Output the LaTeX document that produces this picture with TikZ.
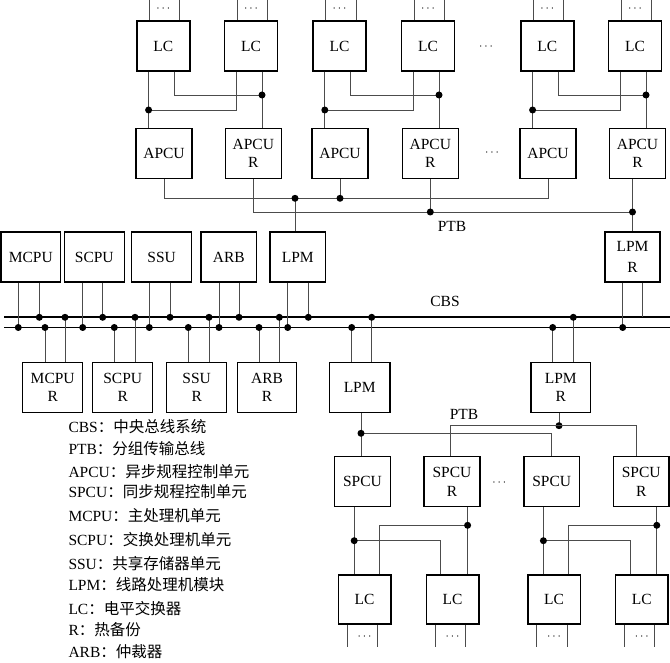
\documentclass[tikz,border=0pt]{standalone}
\usepackage{fontspec}
\setmainfont{Liberation Serif}
\newfontfamily\cjk{Noto Sans CJK SC}
\newcommand\bxfont{\fontsize{15.5}{18.6}\selectfont}
\newcommand\ddfont{\fontsize{13}{15}\selectfont}
\begin{document}
\begin{tikzpicture}[x=1pt,y=-1pt,
  box/.style={draw, line width=1.5pt, inner sep=0pt, align=center, font=\bxfont, minimum height=50pt},
  wire/.style={line width=0.8pt, draw=black!70},
  bus/.style={line width=1.6pt},
  jn/.style={circle, fill=black, inner sep=0pt, minimum size=7pt},
  lbl/.style={font=\bxfont, inner sep=0pt},
  dd/.style={font=\ddfont, inner sep=0pt}]
\useasboundingbox (0,0) rectangle (670,663);

% ---------- nodes ----------
\foreach \n/\x in {lc1/163.3,lc2/251,lc3/339.5,lc4/428,lc5/547.3,lc6/635}{
  \node[box, minimum width=53pt] (\n) at (\x,46) {LC};
  \draw[wire] ([xshift=-14pt]\n.north) -- ++(0,-22);
  \draw[wire] ([xshift=16.5pt]\n.north) -- ++(0,-22);
  \node[dd] (\n-d) at (\x,9) {$\cdots$};
}
\node[dd] (e1) at (486,47) {$\cdots$};
\node[box, minimum width=56pt] (ap1) at (164,153.3) {APCU};
\node[box, minimum width=56pt] (apr1) at (253.3,153.3) {APCU\\R};
\node[box, minimum width=56pt] (ap2) at (340,153.3) {APCU};
\node[box, minimum width=56pt] (apr2) at (430.3,153.3) {APCU\\R};
\node[box, minimum width=56pt] (ap3) at (548,153.3) {APCU};
\node[box, minimum width=56pt] (apr3) at (637.5,153.3) {APCU\\R};
\node[dd] (e2) at (492,153) {$\cdots$};

\node[box, minimum width=59.7pt] (mcpu) at (30.8,257) {MCPU};
\node[box, minimum width=60pt] (scpu) at (94.3,257) {SCPU};
\node[box, minimum width=60pt] (ssu) at (161.7,257) {SSU};
\node[box, minimum width=55.7pt] (arb) at (228.8,257) {ARB};
\node[box, minimum width=55.7pt] (lpm) at (297.8,257) {LPM};
\node[box, minimum width=55pt] (lpmr) at (632.5,257) {LPM\\[3pt]R};

\node[box, minimum width=60pt] (mcpur) at (52.7,387.5) {MCPU\\R};
\node[box, minimum width=60pt] (scpur) at (122.7,387.5) {SCPU\\R};
\node[box, minimum width=60pt] (ssur) at (196.7,387.5) {SSU\\R};
\node[box, minimum width=59.4pt] (arbr) at (267,387.5) {ARB\\R};
\node[box, minimum width=60.7pt] (lpm2) at (359.7,387.5) {LPM};
\node[box, minimum width=59.7pt] (lpmr2) at (560.8,387.5) {LPM\\R};

\node[box, minimum width=56.4pt] (spcu1) at (362.5,481.7) {SPCU};
\node[box, minimum width=56pt] (spcur1) at (452,481.7) {SPCU\\R};
\node[box, minimum width=55.3pt] (spcu2) at (551.7,481.7) {SPCU};
\node[box, minimum width=55.7pt] (spcur2) at (641.2,481.7) {SPCU\\R};
\node[dd] (e3) at (499.3,483.3) {$\cdots$};

\foreach \n/\x in {blc1/364.5,blc2/452.5,blc3/554,blc4/641.8}{
  \node[box, minimum width=52.5pt, minimum height=49pt] (\n) at (\x,599.5) {LC};
  \draw[wire] ([xshift=-17.3pt]\n.south) -- ++(0,22);
  \draw[wire] ([xshift=13pt]\n.south) -- ++(0,22);
  \node[dd] (\n-d) at (\x,637.3) {$\cdots$};
}

% ---------- LC -> APCU ----------
\coordinate (y95) at (0,95);
\coordinate (y110) at (0,110);
\foreach \a/\b/\p/\r in {lc1/lc2/ap1/apr1, lc3/lc4/ap2/apr2, lc5/lc6/ap3/apr3}{
  \coordinate (\a-l) at ([xshift=-14.7pt]\a.south);
  \coordinate (\a-r) at ([xshift=11pt]\a.south);
  \coordinate (\b-l) at ([xshift=-14.7pt]\b.south);
  \coordinate (\b-r) at ([xshift=11pt]\b.south);
  \draw[wire] (\a-l) -- (\a-l |- \p.north);
  \draw[wire] (\b-l) -- (\b-l |- y110) -- (\a-l |- y110);
  \draw[wire] (\a-r) -- (\a-r |- y95) -- (\b-r |- y95);
  \draw[wire] (\b-r) -- (\b-r |- \r.north);
  \node[jn] (\a-j) at (\a-l |- y110) {};
  \node[jn] (\b-j) at (\b-r |- y95) {};
}

% ---------- upper PTB ----------
\coordinate (ya) at (0,198.3);
\coordinate (yb) at (0,212);
\draw[wire] (ap1.south) -- (ap1.south |- ya) -- (ap3.south |- ya) -- (ap3.south);
\draw[wire] (ap2.south) -- (ap2.south |- ya);
\node[jn] (ja2) at (ap2.south |- ya) {};
\coordinate (lpmup) at ([xshift=-2.8pt]lpm.north);
\draw[wire] (lpmup) -- (lpmup |- ya);
\node[jn] (jlpm) at (lpmup |- ya) {};
\draw[wire] (apr1.south) -- (apr1.south |- yb) -- (lpmr.north |- yb);
\draw[wire] (apr2.south) -- (apr2.south |- yb);
\node[jn] (jb2) at (apr2.south |- yb) {};
\draw[wire] (apr3.south -| lpmr.north) -- (lpmr.north);
\node[jn] (jb3) at (lpmr.north |- yb) {};
\node[lbl] (ptb1) at (452,226) {PTB};

% ---------- CBS ----------
\coordinate (b1l) at (4,317.3);
\coordinate (b1r) at (670,317.3);
\coordinate (b2l) at (4,327.5);
\coordinate (b2r) at (670,327.5);
\draw[bus] (b1l) -- (b1r);
\draw[bus] (b2l) -- (b2r);
\node[lbl] (cbs) at (445,301.7) {CBS};

\foreach \n/\l/\u in {mcpu/-12.5pt/8.5pt, scpu/-11.6pt/8.4pt, ssu/-12.4pt/8.3pt, arb/-9.8pt/10.2pt, lpm/-10.1pt/10.5pt}{
  \draw[wire] ([xshift=\l]\n.south) -- ([xshift=\l]\n.south |- b2l);
  \node[jn] (\n-jl) at ([xshift=\l]\n.south |- b2l) {};
  \draw[wire] ([xshift=\u]\n.south) -- ([xshift=\u]\n.south |- b1l);
  \node[jn] (\n-ju) at ([xshift=\u]\n.south |- b1l) {};
}
\draw[wire] ([xshift=-9.8pt]lpmr.south) -- ([xshift=-9.8pt]lpmr.south |- b2l);
\node[jn] (lpmr-jl) at ([xshift=-9.8pt]lpmr.south |- b2l) {};
\draw[wire] ([xshift=10.2pt]lpmr.south) -- ([xshift=10.2pt]lpmr.south |- b1l);

\foreach \n/\l/\u in {mcpur/-7.7pt/12.3pt, scpur/-8.4pt/12.3pt, ssur/-8.4pt/12.3pt, arbr/-8pt/12.3pt, lpm2/-8pt/12pt, lpmr2/-8.1pt/12.5pt}{
  \draw[wire] ([xshift=\l]\n.north) -- ([xshift=\l]\n.north |- b2l);
  \node[jn] (\n-jl) at ([xshift=\l]\n.north |- b2l) {};
  \draw[wire] ([xshift=\u]\n.north) -- ([xshift=\u]\n.north |- b1l);
  \node[jn] (\n-ju) at ([xshift=\u]\n.north |- b1l) {};
}

% ---------- lower PTB ----------
\coordinate (yc) at (0,433.3);
\coordinate (yd) at (0,425.7);
\coordinate (lpmdn) at ([xshift=1.3pt]lpm2.south);
\draw[wire] (lpmdn) -- (lpmdn |- spcu1.north);
\draw[wire] (lpmdn |- yc) -- (spcu2.north |- yc) -- (spcu2.north);
\node[jn] (jc) at (lpmdn |- yc) {};
\coordinate (lpmrdn) at ([xshift=-1.8pt]lpmr2.south);
\draw[wire] (lpmrdn) -- (lpmrdn |- yd);
\node[jn] (jd) at (lpmrdn |- yd) {};
\coordinate (sr1) at ([xshift=-2pt]spcur1.north);
\coordinate (sr2) at ([xshift=-5pt]spcur2.north);
\draw[wire] (sr1) -- (sr1 |- yd) -- (sr2 |- yd) -- (sr2);
\node[lbl] (ptb2) at (464,414) {PTB};

% ---------- SPCU -> LC ----------
\coordinate (y525) at (0,525.3);
\coordinate (y540) at (0,540.7);
\foreach \s/\r/\a/\b in {spcu1/spcur1/blc1/blc2, spcu2/spcur2/blc3/blc4}{
  \coordinate (\s-o) at ([xshift=-8.3pt]\s.south);
  \coordinate (\r-o) at ([xshift=15.6pt]\r.south);
  \coordinate (\a-i) at ([xshift=14.5pt]\a.north);
  \coordinate (\b-i) at ([xshift=-11.8pt]\b.north);
  \draw[wire] (\s-o) -- (\s-o |- \a.north);
  \draw[wire] (\s-o |- y540) -- (\b-i |- y540) -- (\b-i);
  \node[jn] (\s-j) at (\s-o |- y540) {};
  \draw[wire] (\r-o) -- (\r-o |- \b.north);
  \draw[wire] (\r-o |- y525) -- (\a-i |- y525) -- (\a-i);
  \node[jn] (\r-j) at (\r-o |- y525) {};
}

% ---------- legend ----------
\node[lbl, anchor=west] (lg1) at (68.3,426.7) {CBS{\cjk ：中央总线系统}};
\node[lbl, anchor=west] (lg2) at (68.3,448.3) {PTB{\cjk ：分组传输总线}};
\node[lbl, anchor=west] (lg3) at (68.3,471.7) {APCU{\cjk ：异步规程控制单元}};
\node[lbl, anchor=west] (lg4) at (68.3,491.7) {SPCU{\cjk ：同步规程控制单元}};
\node[lbl, anchor=west] (lg5) at (68.3,516) {MCPU{\cjk ：主处理机单元}};
\node[lbl, anchor=west] (lg6) at (68.3,539.3) {SCPU{\cjk ：交换处理机单元}};
\node[lbl, anchor=west] (lg7) at (68.3,563.3) {SSU{\cjk ：共享存储器单元}};
\node[lbl, anchor=west] (lg8) at (68.3,585) {LPM{\cjk ：线路处理机模块}};
\node[lbl, anchor=west] (lg9) at (68.3,608.3) {LC{\cjk ：电平交换器}};
\node[lbl, anchor=west] (lg10) at (68.3,630) {R{\cjk ：热备份}};
\node[lbl, anchor=west] (lg11) at (68.3,651.7) {ARB{\cjk ：仲裁器}};
\end{tikzpicture}
\end{document}
